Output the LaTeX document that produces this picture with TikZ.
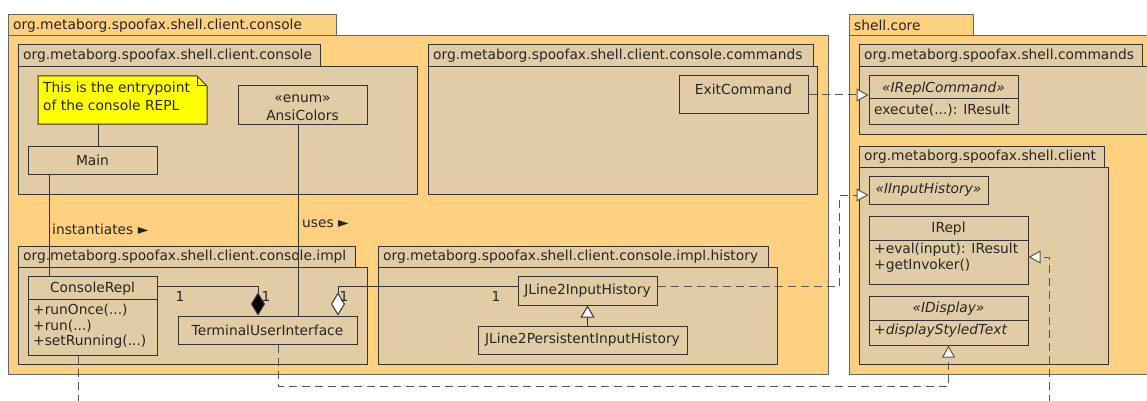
\documentclass[tikz,border=0pt]{standalone}
\usepackage{fontspec}
\setmainfont{DejaVu Sans}
\usetikzlibrary{arrows.meta,fit}
\definecolor{pkgouter}{HTML}{FFD080}
\definecolor{pkginner}{HTML}{E2CCA5}
\definecolor{notey}{HTML}{FFFF00}
\definecolor{edgec}{HTML}{333333}
\definecolor{outerc}{HTML}{666666}
\definecolor{dashc}{HTML}{555555}
\begin{document}
\begin{tikzpicture}[x=1pt,y=-1pt,
  font=\fontsize{13.8}{16}\selectfont,
  outerpkg/.style={draw=outerc, fill=pkgouter, line width=1pt, inner sep=0pt},
  innerpkg/.style={draw=edgec, fill=pkginner, line width=1pt, inner sep=0pt},
  cls/.style={draw=edgec, fill=pkginner, line width=1pt, inner sep=0pt},
  txt/.style={inner sep=0pt, text=black!85},
  solidln/.style={draw=edgec, line width=1pt},
  dashln/.style={draw=dashc, line width=1pt, dash pattern=on 8pt off 5pt},
  realize/.style={dashln, -{Triangle[length=12pt, width=13pt, fill=white, line width=1pt]}},
  generalize/.style={solidln, -{Triangle[length=12pt, width=14pt, fill=white, line width=1pt]}},
  compose/.style={solidln, -{Diamond[length=23pt, width=14pt, fill=black, line width=1pt]}},
  aggregate/.style={solidln, -{Diamond[length=23pt, width=14pt, fill=white, line width=1pt]}},
]
\useasboundingbox (0,0) rectangle (1147,401);
\clip (0,0) rectangle (1147,401);

% ---------- packages ----------
\node[outerpkg, fit={(8,36) (828,374)}] (consoleB) {};
\node[outerpkg, fit={(8,15) (336,36)}] (consoleT) {};
\node[txt, anchor=west] at (13,25.5) {org.metaborg.spoofax.shell.client.console};

\node[outerpkg, fit={(849,36) (1160,374)}] (coreB) {};
\node[outerpkg, fit={(849,15) (973,36)}] (coreT) {};
\node[txt, anchor=west] at (854,25.5) {shell.core};

\node[innerpkg, fit={(18,67) (417,194)}] (consB) {};
\node[innerpkg, fit={(18,45) (320,67)}] (consT) {};
\node[txt, anchor=west] at (23,56) {org.metaborg.spoofax.shell.client.console};

\node[innerpkg, fit={(428,67) (817,194)}] (cmdB) {};
\node[innerpkg, fit={(428,45) (813,67)}] (cmdT) {};
\node[txt, anchor=west] at (433,56) {org.metaborg.spoofax.shell.client.console.commands};

\node[innerpkg, fit={(18,267) (367,364)}] (implB) {};
\node[innerpkg, fit={(18,246) (355,267)}] (implT) {};
\node[txt, anchor=west] at (23,256.5) {org.metaborg.spoofax.shell.client.console.impl};

\node[innerpkg, fit={(378,267) (777,364)}] (histB) {};
\node[innerpkg, fit={(378,246) (768,267)}] (histT) {};
\node[txt, anchor=west] at (383,256.5) {org.metaborg.spoofax.shell.client.console.impl.history};

\node[innerpkg, fit={(859,67) (1160,134)}] (scmdB) {};
\node[innerpkg, fit={(859,45) (1142,67)}] (scmdT) {};
\node[txt, anchor=west] at (864,56) {org.metaborg.spoofax.shell.commands};

\node[innerpkg, fit={(859,167) (1108,364)}] (clientB) {};
\node[innerpkg, fit={(859,146) (1104,167)}] (clientT) {};
\node[txt, anchor=west] at (864,156.5) {org.metaborg.spoofax.shell.client};

% ---------- note ----------
\node[inner sep=0pt, fit={(38,76) (207,124)}] (note) {};
\draw[draw=edgec, fill=notey, line width=1pt] (38,76) -- (197,76) -- (207,86) -- (207,124) -- (38,124) -- cycle;
\draw[draw=edgec, line width=1pt] (197,76) -- (197,86) -- (207,86);
\node[txt, anchor=west] at (43,89) {This is the entrypoint};
\node[txt, anchor=west] at (43,105) {of the console REPL};

% ---------- classes ----------
\node[cls, fit={(28,146) (157,174)}] (main) {};
\node[txt] at (main.center) {Main};

\node[cls, fit={(238,86) (367,124)}] (ansi) {};
\node[txt] at (302.5,99) {«enum»};
\node[txt] at (302.5,115) {AnsiColors};

\node[cls, fit={(679,76) (808,114)}] (exit) {};
\node[txt] at (743.5,89) {ExitCommand};

\node[cls, fit={(28,276) (157,355)}] (repl) {};
\draw[solidln] (28,299) -- (157,299);
\node[txt] at (92.5,289) {ConsoleRepl};
\node[txt, anchor=west] at (33,310) {+runOnce(...)};
\node[txt, anchor=west] at (33,326) {+run(...)};
\node[txt, anchor=west] at (33,342) {+setRunning(...)};

\node[cls, fit={(178,316) (357,344)}] (tui) {};
\node[txt] at (tui.center) {TerminalUserInterface};

\node[cls, fit={(518,276) (657,305)}] (jl) {};
\node[txt] at (jl.center) {JLine2InputHistory};

\node[cls, fit={(478,326) (687,354)}] (jlp) {};
\node[txt] at (jlp.center) {JLine2PersistentInputHistory};

\node[cls, fit={(869,76) (1018,124)}] (ireplcmd) {};
\draw[solidln] (869,99) -- (1018,99);
\node[txt] at (943.5,89) {\itshape «IReplCommand»};
\node[txt, anchor=west] at (874,110) {execute(...): IResult};

\node[cls, fit={(869,176) (988,204)}] (iih) {};
\node[txt] at (iih.center) {\itshape «IInputHistory»};

\node[cls, fit={(869,216) (1028,284)}] (irepl) {};
\draw[solidln] (869,240) -- (1028,240);
\node[txt] at (948.5,229) {IRepl};
\node[txt, anchor=west] at (874,250) {+eval(input): IResult};
\node[txt, anchor=west] at (874,266) {+getInvoker()};

\node[cls, fit={(869,296) (1028,345)}] (idisp) {};
\draw[solidln] (869,320) -- (1028,320);
\node[txt] at (948.5,309) {\itshape «IDisplay»};
\node[txt, anchor=west] at (874,331) {\itshape +displayStyledText};

% ---------- connectors ----------
\draw[solidln] ([xshift=5.5pt]main.north) -- ([xshift=5.5pt]main.north |- note.south);
\draw[solidln] ([xshift=-43.5pt]main.south) -- ([xshift=-43.5pt]main.south |- repl.north);
\node[txt, anchor=west] at (52,229) {instantiates ►};
\draw[solidln] ([xshift=-4.5pt]ansi.south) -- ([xshift=-4.5pt]ansi.south |- tui.north);
\node[txt, anchor=west] at (302,224) {uses ►};

\draw[compose] ([yshift=29.5pt]repl.east) -| ([xshift=-9.5pt]tui.north);
\draw[aggregate] ([yshift=4.5pt]jl.west) -| ([xshift=70.5pt]tui.north);
\node[txt] at (180,296) {1};
\node[txt] at (266,296) {1};
\node[txt] at (344,296) {1};
\node[txt] at (496,296) {1};

\draw[generalize] (jl.south |- jlp.north) -- (jl.south);

\draw[realize] (exit.east) -- (exit.east -| ireplcmd.west);

\coordinate (c1) at (839,195);
\draw[realize] ([yshift=4.5pt]jl.east) -| (c1) -- (c1 -| iih.west);

\coordinate (c2) at (278,386);
\draw[realize] ([xshift=10.5pt]tui.south) -- (c2) -| (idisp.south);

\coordinate (c3) at (78,420);
\coordinate (c4) at (1049,257);
\draw[realize] ([xshift=-14.5pt]repl.south) -- (c3) -| (c4) -- (c4 -| irepl.east);
\end{tikzpicture}
\end{document}
